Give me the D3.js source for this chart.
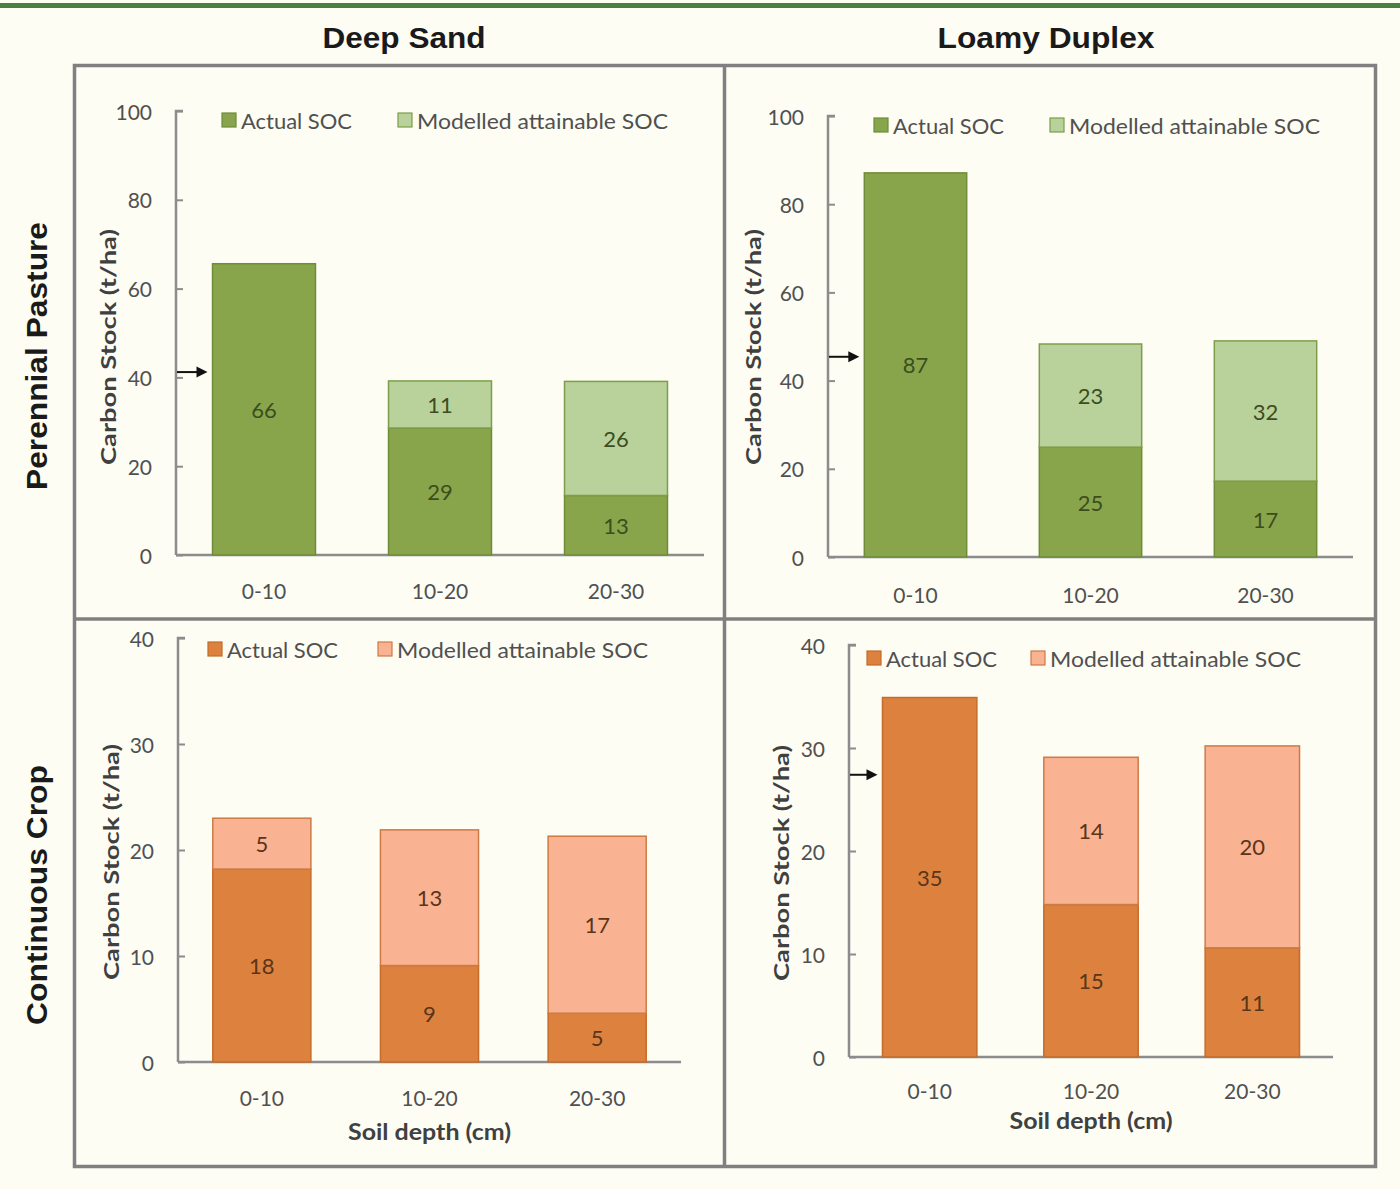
<!DOCTYPE html>
<html>
<head>
<meta charset="utf-8">
<script src="https://cdn.jsdelivr.net/npm/d3@7/dist/d3.min.js"></script>
<style>
  html, body { margin: 0; padding: 0; background: #fdfdf4; }
  svg { display: block; }
</style>
</head>
<body>
<svg id="chart" width="1400" height="1189"></svg>
<script>
// ---------------- DATA ----------------
const columnTitles = ["Deep Sand", "Loamy Duplex"];
const rowTitles = ["Perennial Pasture", "Continuous Crop"];
const categories = ["0-10", "10-20", "20-30"];
const seriesNames = ["Actual SOC", "Modelled attainable SOC"];

// Perennial Pasture
const pastureSandActual = [65.6, 28.6, 13.4];
const pastureSandModelled = [0, 10.6, 25.7];
const pastureLoamyActual = [87.1, 24.9, 17.2];
const pastureLoamyModelled = [0, 23.4, 31.8];
// Continuous Crop
const cropSandActual = [18.2, 9.1, 4.6];
const cropSandModelled = [4.8, 12.8, 16.7];
const cropLoamyActual = [34.9, 14.8, 10.6];
const cropLoamyModelled = [0, 14.3, 19.6];

const pastureTicks = [0, 20, 40, 60, 80, 100];
const cropTicks = [0, 10, 20, 30, 40];

// arrow marker values (null = none)
const arrowValues = [41.2, 45.4, null, 27.4];

const yAxisTitle = "Carbon Stock (t/ha)";
const xAxisTitle = "Soil depth (cm)";

// ---------------- STYLE / LAYOUT ----------------
const palettes = {
  green: { actual: "#88a54b", actualStroke: "#6f8d38", modelled: "#b9d29b", modelledStroke: "#7e9d48", label: "#3c4d20" },
  orange: { actual: "#dc823e", actualStroke: "#c56c2a", modelled: "#f9b292", modelledStroke: "#cd7b45", label: "#5a3519" }
};

const panels = [
  { actual: pastureSandActual, modelled: pastureSandModelled, ticks: pastureTicks, pal: "green",
    x0: 176, x1: 704, y0: 555, yTop: 111, xLabY: 590, yTitleX: 107, yTitleY: 347, xTitleY: null,
    legY: 120, leg1: 222, leg2: 398, arrow: arrowValues[0] },
  { actual: pastureLoamyActual, modelled: pastureLoamyModelled, ticks: pastureTicks, pal: "green",
    x0: 828, x1: 1353, y0: 557, yTop: 116, xLabY: 594, yTitleX: 752, yTitleY: 347, xTitleY: null,
    legY: 125, leg1: 874, leg2: 1050, arrow: arrowValues[1] },
  { actual: cropSandActual, modelled: cropSandModelled, ticks: cropTicks, pal: "orange",
    x0: 178, x1: 681, y0: 1062, yTop: 638, xLabY: 1097, yTitleX: 110, yTitleY: 862, xTitleY: 1131,
    legY: 649, leg1: 208, leg2: 378, arrow: arrowValues[2] },
  { actual: cropLoamyActual, modelled: cropLoamyModelled, ticks: cropTicks, pal: "orange",
    x0: 849, x1: 1333, y0: 1057, yTop: 645, xLabY: 1090, yTitleX: 780, yTitleY: 863, xTitleY: 1120,
    legY: 658, leg1: 867, leg2: 1031, arrow: arrowValues[3] }
];

const FONT = "Lato, 'Open Sans', sans-serif";
const svg = d3.select("#chart");

svg.append("rect").attr("width", 1400).attr("height", 1189).attr("fill", "#fdfdf4");
// top green rule
svg.append("rect").attr("x", 0).attr("y", 3).attr("width", 1400).attr("height", 5).attr("fill", "#4b8043");

// column titles
const colX = [404, 1046];
const colW = [163, 217];
columnTitles.forEach((t, i) => {
  svg.append("text").attr("x", colX[i]).attr("y", 38)
    .attr("text-anchor", "middle").attr("dominant-baseline", "central")
    .attr("font-family", "'Liberation Sans', Arial, sans-serif").attr("font-weight", "bold")
    .attr("font-size", 29).attr("fill", "#1a1a1a")
    .attr("textLength", colW[i]).attr("lengthAdjust", "spacingAndGlyphs")
    .text(t);
});
// row titles
const rowY = [356, 895];
const rowW = [268, 260];
rowTitles.forEach((t, i) => {
  svg.append("text").attr("transform", `translate(37,${rowY[i]}) rotate(-90)`)
    .attr("text-anchor", "middle").attr("dominant-baseline", "central")
    .attr("font-family", "'Liberation Sans', Arial, sans-serif").attr("font-weight", "bold")
    .attr("font-size", 29).attr("fill", "#1a1a1a")
    .attr("textLength", rowW[i]).attr("lengthAdjust", "spacingAndGlyphs")
    .text(t);
});

// frame
const frame = svg.append("g").attr("stroke", "#808080").attr("stroke-width", 3.5).attr("fill", "none");
frame.append("rect").attr("x", 74.5).attr("y", 65.5).attr("width", 1301).attr("height", 1101);
frame.append("line").attr("x1", 724.5).attr("x2", 724.5).attr("y1", 65).attr("y2", 1167);
frame.append("line").attr("x1", 74).attr("x2", 1376).attr("y1", 619).attr("y2", 619);

panels.forEach((p, pi) => {
  const pal = palettes[p.pal];
  const g = svg.append("g");
  const maxV = p.ticks[p.ticks.length - 1];
  const y = d3.scaleLinear().domain([0, maxV]).range([p.y0, p.yTop]);
  const x = d3.scaleBand().domain(categories).range([p.x0, p.x1]).paddingInner(0.415).paddingOuter(0.2075);

  // y axis (ticks inward)
  const yAxis = d3.axisRight(y).tickValues(p.ticks).tickSize(7).tickFormat("");
  const ya = g.append("g").attr("transform", `translate(${p.x0},0)`).call(yAxis);
  ya.select(".domain").attr("stroke", "#8c8c8c").attr("stroke-width", 2.5).attr("d", `M7,${p.yTop}H0V${p.y0}`);
  ya.selectAll(".tick line").attr("stroke", "#8c8c8c").attr("stroke-width", 2);
  // y tick labels
  g.selectAll(".ylab").data(p.ticks).join("text")
    .attr("x", p.x0 - 24).attr("y", d => y(d))
    .attr("text-anchor", "end").attr("dominant-baseline", "central")
    .attr("font-family", FONT).attr("font-size", 21).attr("fill", "#505050")
    .text(d => d);

  // x axis
  const xAxis = d3.axisBottom(x).tickSize(0).tickFormat("");
  const xa = g.append("g").attr("transform", `translate(0,${p.y0})`).call(xAxis);
  xa.select(".domain").attr("stroke", "#8c8c8c").attr("stroke-width", 2.5).attr("d", `M${p.x0},0H${p.x1}`);
  g.selectAll(".xlab").data(categories).join("text")
    .attr("x", d => x(d) + x.bandwidth() / 2).attr("y", p.xLabY)
    .attr("text-anchor", "middle").attr("dominant-baseline", "central")
    .attr("font-family", FONT).attr("font-size", 21).attr("fill", "#505050")
    .text(d => d);

  // bars
  const rows = categories.map((c, i) => ({ c, a: p.actual[i], m: p.modelled[i] }));
  g.selectAll(".barA").data(rows).join("rect")
    .attr("x", d => x(d.c)).attr("width", x.bandwidth())
    .attr("y", d => y(d.a)).attr("height", d => y(0) - y(d.a))
    .attr("fill", pal.actual).attr("stroke", pal.actualStroke).attr("stroke-width", 1.5);
  g.selectAll(".barM").data(rows.filter(d => d.m > 0)).join("rect")
    .attr("x", d => x(d.c)).attr("width", x.bandwidth())
    .attr("y", d => y(d.a + d.m)).attr("height", d => y(d.a) - y(d.a + d.m))
    .attr("fill", pal.modelled).attr("stroke", pal.modelledStroke).attr("stroke-width", 1.5);
  // value labels
  g.selectAll(".labA").data(rows).join("text")
    .attr("x", d => x(d.c) + x.bandwidth() / 2).attr("y", d => (y(0) + y(d.a)) / 2)
    .attr("text-anchor", "middle").attr("dominant-baseline", "central")
    .attr("font-family", FONT).attr("font-size", 22).attr("fill", pal.label)
    .text(d => Math.round(d.a));
  g.selectAll(".labM").data(rows.filter(d => d.m > 0)).join("text")
    .attr("x", d => x(d.c) + x.bandwidth() / 2).attr("y", d => (y(d.a) + y(d.a + d.m)) / 2)
    .attr("text-anchor", "middle").attr("dominant-baseline", "central")
    .attr("font-family", FONT).attr("font-size", 22).attr("fill", pal.label)
    .text(d => Math.round(d.m));

  // axis titles
  g.append("text").attr("transform", `translate(${p.yTitleX},${p.yTitleY}) rotate(-90)`)
    .attr("text-anchor", "middle").attr("dominant-baseline", "central")
    .attr("font-family", FONT).attr("font-weight", "bold").attr("font-size", 21).attr("fill", "#404040")
    .attr("textLength", 236).attr("lengthAdjust", "spacingAndGlyphs")
    .text(yAxisTitle);
  if (p.xTitleY) {
    g.append("text").attr("x", x(categories[1]) + x.bandwidth() / 2).attr("y", p.xTitleY)
      .attr("text-anchor", "middle").attr("dominant-baseline", "central")
      .attr("font-family", FONT).attr("font-weight", "bold").attr("font-size", 22).attr("fill", "#404040")
      .attr("textLength", 163).attr("lengthAdjust", "spacingAndGlyphs")
      .text(xAxisTitle);
  }

  // legend
  const legX = [p.leg1, p.leg2];
  const legColors = [[pal.actual, pal.actualStroke], [pal.modelled, pal.modelledStroke]];
  const legW = [111, 251];
  seriesNames.forEach((s, i) => {
    g.append("rect").attr("x", legX[i]).attr("y", p.legY - 7).attr("width", 14).attr("height", 14)
      .attr("fill", legColors[i][0]).attr("stroke", legColors[i][1]).attr("stroke-width", 1.2);
    g.append("text").attr("x", legX[i] + 19).attr("y", p.legY)
      .attr("dominant-baseline", "central")
      .attr("font-family", FONT).attr("font-size", 22).attr("fill", "#505050")
      .attr("textLength", legW[i]).attr("lengthAdjust", "spacingAndGlyphs")
      .text(s);
  });

  // arrow
  if (p.arrow != null) {
    const ay = y(p.arrow);
    const ax1 = p.x0 + 1, ax2 = x(categories[0]) - 5;
    g.append("line").attr("x1", ax1).attr("x2", ax2 - 8).attr("y1", ay).attr("y2", ay)
      .attr("stroke", "#111").attr("stroke-width", 2);
    g.append("path").attr("d", `M${ax2},${ay}L${ax2 - 11},${ay - 5.5}L${ax2 - 11},${ay + 5.5}Z`).attr("fill", "#111");
  }
});
</script>
</body>
</html>
